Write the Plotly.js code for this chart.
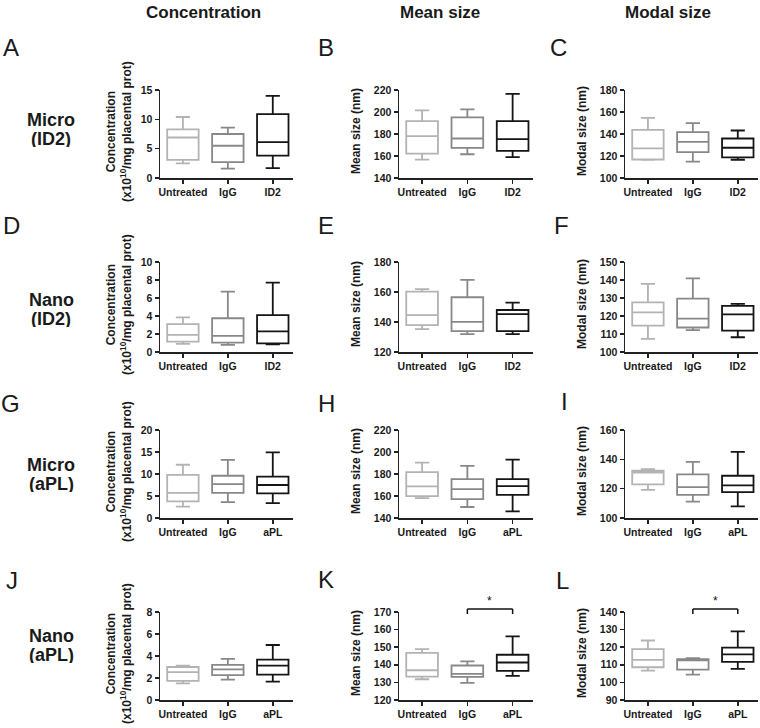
<!DOCTYPE html>
<html>
<head>
<meta charset="utf-8">
<script src="https://cdn.plot.ly/plotly-3.0.1.min.js"></script>
<style>html,body{margin:0;padding:0;background:#fff}#chart{width:760px;height:728px}</style>
</head>
<body>
<div id="chart"></div>
<script>
// ---------- DATA ----------
const groupsID2 = ['Untreated', 'IgG', 'ID2'];
const groupsAPL = ['Untreated', 'IgG', 'aPL'];
const columnTitles = ['Concentration', 'Mean size', 'Modal size'];
const rowTitles = [['Micro', '(ID2)'], ['Nano', '(ID2)'], ['Micro', '(aPL)'], ['Nano', '(aPL)']];
const panelLetters = ['A','B','C','D','E','F','G','H','I','J','K','L'];

// five-number summaries, order: Untreated, IgG, ID2/aPL
const A_min = [2.5, 1.6, 1.7],   A_q1 = [3.1, 2.7, 3.8],   A_med = [6.9, 5.5, 6.1],   A_q3 = [8.3, 7.5, 10.9],  A_max = [10.4, 8.6, 14.0];
const B_min = [156.7, 161.6, 158.9], B_q1 = [162.2, 167.4, 164.6], B_med = [178.0, 175.9, 175.3], B_q3 = [191.7, 195.1, 191.7], B_max = [201.4, 202.4, 216.5];
const C_min = [116.6, 114.8, 116.6], C_q1 = [116.8, 123.5, 118.7], C_med = [126.9, 132.9, 127.5], C_q3 = [143.8, 141.7, 135.9], C_max = [154.6, 149.8, 143.2];
const D_min = [0.9, 0.8, 0.85],  D_q1 = [1.15, 1.05, 0.95], D_med = [1.9, 1.8, 2.3],  D_q3 = [3.1, 3.75, 4.1],   D_max = [3.85, 6.7, 7.7];
const E_min = [135.2, 131.9, 131.9], E_q1 = [137.9, 133.9, 133.9], E_med = [144.6, 140.1, 145.3], E_q3 = [160.3, 156.5, 148.0], E_max = [161.9, 168.1, 152.9];
const F_min = [107.3, 112.1, 108.2], F_q1 = [114.6, 113.6, 111.9], F_med = [122.0, 118.5, 120.9], F_q3 = [127.6, 129.7, 125.6], F_max = [137.9, 140.9, 126.7];
const G_min = [2.6, 3.6, 3.4],   G_q1 = [3.8, 5.7, 5.6],   G_med = [5.7, 7.7, 7.5],   G_q3 = [9.8, 9.6, 9.4],   G_max = [12.1, 13.2, 14.9];
const H_min = [158.1, 150.0, 146.0], H_q1 = [159.9, 157.2, 161.1], H_med = [168.7, 166.3, 169.0], H_q3 = [181.7, 175.3, 175.3], H_max = [190.4, 187.4, 193.1];
const I_min = [119.2, 111.1, 107.9], I_q1 = [122.9, 115.8, 117.7], I_med = [131.0, 121.1, 122.2], I_q3 = [132.2, 129.7, 128.8], I_max = [133.3, 138.3, 145.1];
const J_min = [1.52, 1.85, 1.67], J_q1 = [1.73, 2.27, 2.3], J_med = [2.54, 2.78, 3.13], J_q3 = [3.0, 3.19, 3.67], J_max = [3.13, 3.73, 5.0];
const K_min = [131.8, 129.7, 133.7], K_q1 = [133.3, 133.1, 136.5], K_med = [136.9, 134.8, 141.3], K_q3 = [146.8, 139.6, 145.7], K_max = [148.9, 141.9, 156.1];
const L_min = [106.7, 104.4, 107.7], L_q1 = [108.6, 107.3, 111.7], L_med = [112.8, 112.5, 115.9], L_q3 = [118.9, 113.2, 119.8], L_max = [123.8, 113.8, 129.0];

// y axis ticks (tick labels)
const A_ticks = [0, 5, 10, 15];
const B_ticks = [140, 160, 180, 200, 220];
const C_ticks = [100, 120, 140, 160, 180];
const D_ticks = [0, 2, 4, 6, 8, 10];
const E_ticks = [120, 140, 160, 180];
const F_ticks = [100, 110, 120, 130, 140, 150];
const G_ticks = [0, 5, 10, 15, 20];
const H_ticks = [140, 160, 180, 200, 220];
const I_ticks = [100, 120, 140, 160];
const J_ticks = [0, 2, 4, 6, 8];
const K_ticks = [120, 130, 140, 150, 160, 170];
const L_ticks = [90, 100, 110, 120, 130, 140];

const concTitle = 'Concentration<br>(x10<sup>10</sup>/mg placental prot)';
const meanTitle = 'Mean size (nm)';
const modalTitle = 'Modal size (nm)';

// significance comparisons (panel, group a, group b, label)
const sigPanels = ['K', 'L'];
const sigPairs = [[1, 2], [1, 2]];
const sigLabels = ['*', '*'];

// ---------- BUILD ----------
const panels = [
  {min:A_min,q1:A_q1,med:A_med,q3:A_q3,max:A_max,ticks:A_ticks,cats:groupsID2,title:concTitle},
  {min:B_min,q1:B_q1,med:B_med,q3:B_q3,max:B_max,ticks:B_ticks,cats:groupsID2,title:meanTitle},
  {min:C_min,q1:C_q1,med:C_med,q3:C_q3,max:C_max,ticks:C_ticks,cats:groupsID2,title:modalTitle},
  {min:D_min,q1:D_q1,med:D_med,q3:D_q3,max:D_max,ticks:D_ticks,cats:groupsID2,title:concTitle},
  {min:E_min,q1:E_q1,med:E_med,q3:E_q3,max:E_max,ticks:E_ticks,cats:groupsID2,title:meanTitle},
  {min:F_min,q1:F_q1,med:F_med,q3:F_q3,max:F_max,ticks:F_ticks,cats:groupsID2,title:modalTitle},
  {min:G_min,q1:G_q1,med:G_med,q3:G_q3,max:G_max,ticks:G_ticks,cats:groupsAPL,title:concTitle},
  {min:H_min,q1:H_q1,med:H_med,q3:H_q3,max:H_max,ticks:H_ticks,cats:groupsAPL,title:meanTitle},
  {min:I_min,q1:I_q1,med:I_med,q3:I_q3,max:I_max,ticks:I_ticks,cats:groupsAPL,title:modalTitle},
  {min:J_min,q1:J_q1,med:J_med,q3:J_q3,max:J_max,ticks:J_ticks,cats:groupsAPL,title:concTitle},
  {min:K_min,q1:K_q1,med:K_med,q3:K_q3,max:K_max,ticks:K_ticks,cats:groupsAPL,title:meanTitle},
  {min:L_min,q1:L_q1,med:L_med,q3:L_q3,max:L_max,ticks:L_ticks,cats:groupsAPL,title:modalTitle}
];

const W = 760, H = 728;
const colX = [[160, 293], [399, 533], [625, 758]];
const rowY = [[90, 178], [262, 352], [430, 518], [612, 700]];
const boxColors = ['#b3b3b3', '#888888', '#151515'];
const axisColor = '#222222';
const FONT = 'Liberation Sans, Arial, Helvetica, sans-serif';
const px2x = v => v / W;
const px2y = v => 1 - v / H;

const data = [];
const layout = {
  width: W, height: H,
  margin: {l: 0, r: 0, t: 0, b: 0},
  paper_bgcolor: '#ffffff', plot_bgcolor: '#ffffff',
  showlegend: false, boxmode: 'overlay',
  font: {family: FONT, color: '#1a1a1a'},
  annotations: [], shapes: []
};

panels.forEach((p, i) => {
  const n = i + 1;
  const xa = n === 1 ? 'x' : 'x' + n;
  const ya = n === 1 ? 'y' : 'y' + n;
  const r = Math.floor(i / 3), c = i % 3;
  p.cats.forEach((cat, g) => {
    data.push({
      type: 'box', xaxis: xa, yaxis: ya, name: cat,
      x: [cat], q1: [p.q1[g]], median: [p.med[g]], q3: [p.q3[g]],
      lowerfence: [p.min[g]], upperfence: [p.max[g]],
      boxpoints: false, width: 0.7, whiskerwidth: 0.45,
      fillcolor: 'rgba(255,255,255,0)',
      line: {color: boxColors[g], width: 1.8},
      hoverinfo: 'skip'
    });
  });
  const ticks = p.ticks;
  layout[n === 1 ? 'xaxis' : 'xaxis' + n] = {
    domain: [px2x(colX[c][0]), px2x(colX[c][1])], anchor: ya,
    type: 'category', categoryorder: 'array', categoryarray: p.cats,
    range: [-0.51, 2.45],
    showline: true, linecolor: axisColor, linewidth: 1.5,
    ticks: 'outside', ticklen: 4, tickwidth: 1.5, tickcolor: axisColor,
    tickfont: {family: FONT, size: 10.5, weight: 'bold', color: '#1a1a1a'},
    showgrid: false, zeroline: false, fixedrange: true
  };
  layout[n === 1 ? 'yaxis' : 'yaxis' + n] = {
    domain: [px2y(rowY[r][1]), px2y(rowY[r][0])], anchor: xa,
    range: [ticks[0], ticks[ticks.length - 1]],
    tickvals: ticks, ticktext: ticks.map(String),
    showline: true, linecolor: axisColor, linewidth: 1.5,
    ticks: 'outside', ticklen: 4, tickwidth: 1.5, tickcolor: axisColor,
    tickfont: {family: FONT, size: 10.5, weight: 'bold', color: '#1a1a1a'},
    showgrid: false, zeroline: false, fixedrange: true
  };
  // y title
  const titleX = [119, 356, 582][c];
  layout.annotations.push({
    xref: 'paper', yref: 'paper', x: px2x(titleX), y: px2y((rowY[r][0] + rowY[r][1]) / 2 - 3),
    text: p.title, textangle: -90, showarrow: false, xanchor: 'center', yanchor: 'middle',
    font: {family: FONT, size: 12, weight: 'bold', color: '#1a1a1a'}
  });
});

// column titles
[203, 440, 668].forEach((x, c) => {
  layout.annotations.push({xref: 'paper', yref: 'paper', x: px2x(x), y: px2y(12),
    text: columnTitles[c], showarrow: false, xanchor: 'center', yanchor: 'middle',
    font: {family: FONT, size: 17, weight: 'bold', color: '#1a1a1a'}});
});
// row titles
const rowLineY = [[119.5, 138.5], [299.5, 318.5], [464.5, 483.5], [635.5, 654.5]];
rowTitles.forEach((lines, r) => {
  lines.forEach((t, k) => {
    layout.annotations.push({xref: 'paper', yref: 'paper', x: px2x(51), y: px2y(rowLineY[r][k]),
      text: t, showarrow: false, xanchor: 'center', yanchor: 'middle', height: 17,
      font: {family: FONT, size: 18, weight: 'bold', color: '#1a1a1a'}});
  });
});
// panel letters
const letterPos = [[11,48],[326,48],[558,48],[11,225],[326,225],[561,225],[10,403],[326,403],[564,401],[12,580],[326,579],[562,580]];
panelLetters.forEach((t, i) => {
  layout.annotations.push({xref: 'paper', yref: 'paper', x: px2x(letterPos[i][0]), y: px2y(letterPos[i][1]),
    text: t, showarrow: false, xanchor: 'center', yanchor: 'middle',
    font: {family: FONT, size: 24, color: '#1a1a1a'}});
});
// significance brackets
sigPanels.forEach((letter, k) => {
  const i = panelLetters.indexOf(letter);
  const n = i + 1;
  const xa = 'x' + n;
  const r = Math.floor(i / 3);
  const top = rowY[r][0];
  const [a, b] = sigPairs[k];
  const yBar = px2y(top - 3), yEnd = px2y(top + 2);
  const ln = {color: '#111', width: 1.5};
  layout.shapes.push({type: 'line', xref: xa, yref: 'paper', x0: a, x1: b, y0: yBar, y1: yBar, line: ln});
  layout.shapes.push({type: 'line', xref: xa, yref: 'paper', x0: a, x1: a, y0: yBar, y1: yEnd, line: ln});
  layout.shapes.push({type: 'line', xref: xa, yref: 'paper', x0: b, x1: b, y0: yBar, y1: yEnd, line: ln});
  layout.annotations.push({xref: xa, yref: 'paper', x: (a + b) / 2, y: px2y(top - 11),
    text: sigLabels[k], showarrow: false, xanchor: 'center', yanchor: 'middle',
    font: {family: FONT, size: 12, color: '#111'}});
});

Plotly.newPlot('chart', data, layout, {staticPlot: true, displayModeBar: false});
</script>
</body>
</html>
